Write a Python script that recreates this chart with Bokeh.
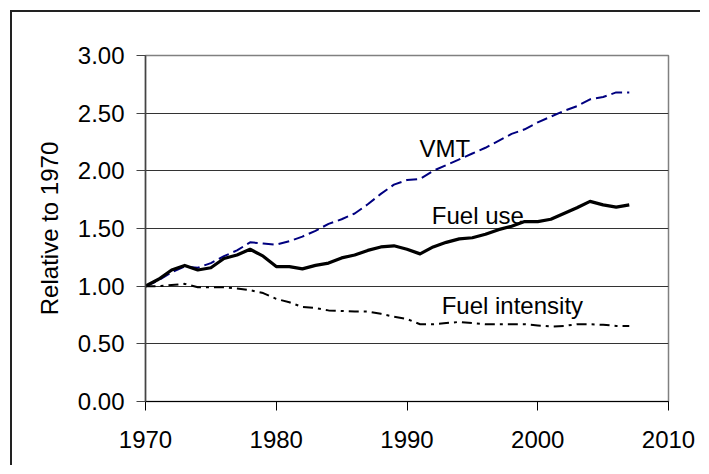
from bokeh.plotting import figure
from bokeh.models import (ColumnDataSource, Label, FixedTicker, NumeralTickFormatter, Range1d)
from bokeh.embed import file_html
from bokeh.resources import INLINE

years = list(range(1970, 2008))
vmt = [1.00, 1.05, 1.12, 1.17, 1.16, 1.20, 1.26, 1.31, 1.38, 1.37,
       1.36, 1.39, 1.43, 1.48, 1.54, 1.58, 1.63, 1.71, 1.80, 1.88,
       1.92, 1.93, 2.00, 2.05, 2.10, 2.15, 2.20, 2.26, 2.32, 2.36,
       2.42, 2.47, 2.52, 2.56, 2.62, 2.64, 2.68, 2.68]
fuel_use = [1.00, 1.06, 1.14, 1.18, 1.14, 1.16, 1.24, 1.27, 1.32, 1.26,
            1.17, 1.17, 1.15, 1.18, 1.20, 1.245, 1.27, 1.31, 1.34, 1.35,
            1.32, 1.28, 1.34, 1.38, 1.41, 1.42, 1.45, 1.49, 1.52, 1.56,
            1.56, 1.58, 1.63, 1.68, 1.735, 1.705, 1.685, 1.705]
fuel_intensity = [1.00, 1.00, 1.01, 1.02, 0.99, 0.99, 0.99, 0.98, 0.965, 0.94,
                  0.89, 0.86, 0.82, 0.81, 0.79, 0.785, 0.78, 0.78, 0.76, 0.735,
                  0.715, 0.67, 0.67, 0.68, 0.69, 0.68, 0.67, 0.67, 0.67, 0.67,
                  0.66, 0.65, 0.655, 0.67, 0.67, 0.665, 0.655, 0.655]
x_ticks = [1970, 1980, 1990, 2000, 2010]
y_ticks = [0.0, 0.5, 1.0, 1.5, 2.0, 2.5, 3.0]
y_title = "Relative to 1970"
series_labels = ["VMT", "Fuel use", "Fuel intensity"]

FONT = "Liberation Sans"

src = ColumnDataSource(dict(year=years, vmt=vmt, fuel=fuel_use, inten=fuel_intensity))

p = figure(width=690, height=455, output_backend="svg", toolbar_location=None,
           x_range=Range1d(1970, 2010), y_range=Range1d(0, 3),
           min_border_left=133, min_border_right=34, min_border_top=43, min_border_bottom=66)
p.styles = {"margin-left": "10px", "margin-top": "10px",
            "border-left": "2px solid #222222", "border-top": "2px solid #222222"}
p.background_fill_color = "white"
p.border_fill_color = "white"
p.outline_line_color = "#808080"
p.outline_line_width = 1.5

p.xgrid.grid_line_color = None
p.ygrid.grid_line_color = "#333333"
p.ygrid.grid_line_width = 1
p.ygrid.ticker = FixedTicker(ticks=y_ticks)

p.xaxis.ticker = FixedTicker(ticks=x_ticks)
p.yaxis.ticker = FixedTicker(ticks=y_ticks)
p.yaxis.formatter = NumeralTickFormatter(format="0.00")
for ax in (p.xaxis, p.yaxis):
    ax.major_tick_out = 9
    ax.major_tick_in = 0
    ax.minor_tick_line_color = None
    ax.major_label_text_font = FONT
    ax.major_label_text_font_size = "24px"
    ax.major_label_text_color = "black"
p.xaxis.axis_line_color = "black"
p.xaxis.major_tick_line_color = "black"
p.xaxis.major_label_standoff = 20
p.yaxis.axis_line_color = "#444444"
p.yaxis.axis_line_width = 1.5
p.yaxis.major_tick_line_color = "#444444"
p.yaxis.major_label_standoff = 12
p.yaxis.axis_label = y_title
p.yaxis.axis_label_text_font = FONT
p.yaxis.axis_label_text_font_size = "24px"
p.yaxis.axis_label_text_font_style = "normal"
p.yaxis.axis_label_text_color = "black"
p.yaxis.axis_label_standoff = 12

p.line("year", "inten", source=src, line_color="black", line_width=2, line_dash="10 5 3 5")
p.line("year", "vmt", source=src, line_color="#000080", line_width=2, line_dash="11 5")
p.line("year", "fuel", source=src, line_color="black", line_width=3.2, line_join="round")

label_pos = [(1990.95, 2.19), (1991.9, 1.61), (1992.65, 0.83)]
for txt, (lx, ly) in zip(series_labels, label_pos):
    p.add_layout(Label(x=lx, y=ly, text=txt, text_font=FONT, text_font_size="24px",
                       text_color="black", text_baseline="alphabetic", text_align="left"))

open("out.html", "w").write(file_html(p, INLINE))
